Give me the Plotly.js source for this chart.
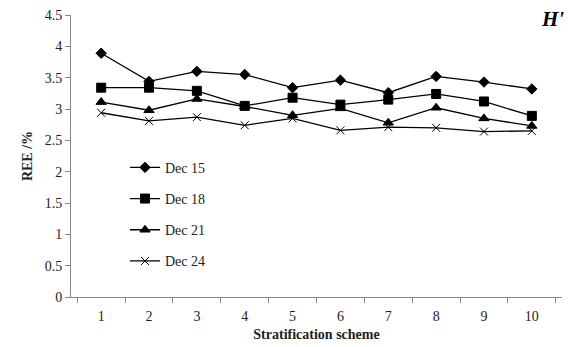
<!DOCTYPE html>
<html><head><meta charset="utf-8">
<script src="https://cdn.plot.ly/plotly-3.0.1.min.js"></script>
<style>html,body{margin:0;padding:0;background:#fff}#c{width:568px;height:347px}</style>
</head><body><div id="c"></div>
<script>
const schemes = ["1","2","3","4","5","6","7","8","9","10"];
const dec15 = [3.89,3.44,3.60,3.55,3.34,3.46,3.26,3.52,3.43,3.32];
const dec18 = [3.34,3.34,3.29,3.05,3.18,3.07,3.15,3.24,3.12,2.89];
const dec21 = [3.11,2.98,3.16,3.04,2.90,3.01,2.78,3.02,2.85,2.73];
const dec24 = [2.94,2.81,2.87,2.74,2.85,2.66,2.71,2.70,2.64,2.65];
const names = ["Dec 15","Dec 18","Dec 21","Dec 24"];
const symbols = ["diamond","square","triangle-up","x-thin-open"];
const sizes = [8,9,9,8];
const series = [dec15,dec18,dec21,dec24];
const traces = series.map((s,i)=>({
  x: schemes, y: s, name: names[i], type:'scatter', mode:'lines+markers',
  legendgroup: 'g'+i,
  line:{color:'#000',width:1.3},
  marker:{symbol:symbols[i],size:sizes[i],color:'#000',line:{color:'#000',width:1}}
}));
const layout = {
  width:568,height:347,
  margin:{l:71,r:6,t:15,b:50},
  paper_bgcolor:'#fff',plot_bgcolor:'#fff',
  font:{family:'Liberation Serif, Times New Roman, serif',size:14,color:'#222'},
  showlegend:true,
  legend:{x:0.11,y:0.515,xanchor:'left',yanchor:'top',tracegroupgap:10,
    font:{size:14,color:'#222'},bgcolor:'rgba(0,0,0,0)'},
  xaxis:{type:'category',tickson:'boundaries',ticks:'outside',ticklen:5,tickcolor:'#888',
    ticklabelstandoff:6,
    showline:true,linecolor:'#888',linewidth:1,showgrid:false,zeroline:false,
    title:{text:'<b>Stratification scheme</b>',font:{size:14},standoff:6}},
  yaxis:{range:[0,4.5],dtick:0.5,ticks:'outside',ticklen:5,tickcolor:'#888',
    showline:true,linecolor:'#888',linewidth:1,showgrid:false,zeroline:false,
    title:{text:'<b>REE /%</b>',font:{size:14},standoff:8}},
  annotations:[{xref:'paper',yref:'paper',x:0.953,y:0.985,xanchor:'left',yanchor:'middle',
    text:"<b><i>H'</i></b>",showarrow:false,font:{size:21,color:'#000'}}]
};
Plotly.newPlot('c',traces,layout,{staticPlot:true,displayModeBar:false});
</script></body></html>
